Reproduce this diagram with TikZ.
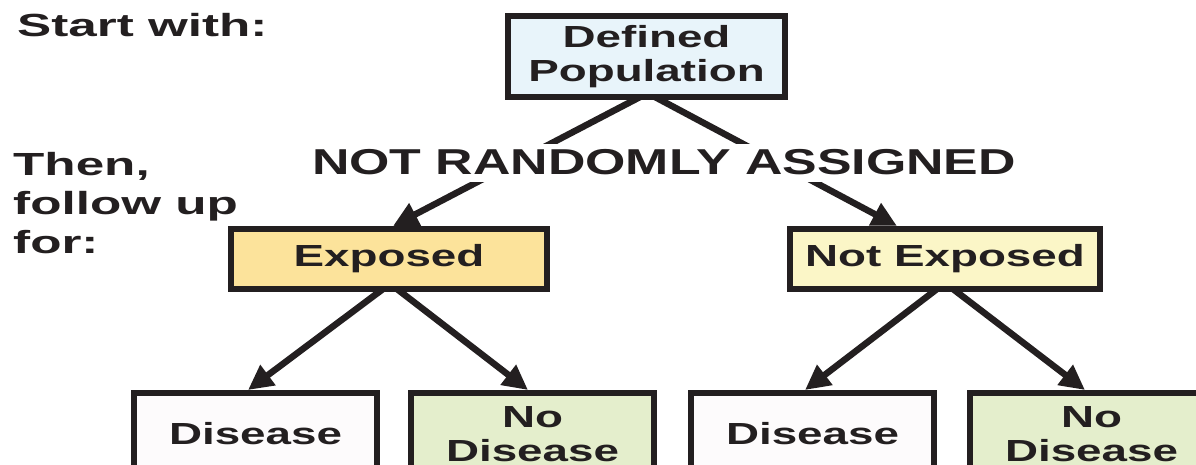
\documentclass[tikz,border=0pt]{standalone}
\usepackage{fontspec}
\setmainfont{Liberation Sans}
% widened bold sans faces for the labels
\newfontfamily\boxfont{Liberation Sans}[FakeStretch=1.5]
\newfontfamily\sidefont{Liberation Sans}[FakeStretch=1.6]
\newfontfamily\midfont{Liberation Sans}[FakeStretch=1.44]
\usetikzlibrary{arrows.meta}
\definecolor{ink}{HTML}{231F20}
\definecolor{popfill}{HTML}{E8F4FA}
\definecolor{expfill}{HTML}{FCE39B}
\definecolor{nexpfill}{HTML}{FBF6C7}
\definecolor{disfill}{HTML}{FDFBFC}
\definecolor{nodfill}{HTML}{E4EECC}
\begin{document}
\begin{tikzpicture}[x=1pt,y=-1pt,
  box/.style={draw=ink, line width=6pt, inner sep=0pt, outer sep=0pt, text=ink,
    font=\boxfont\bfseries\fontsize{30.5}{34}\selectfont, align=center},
  leaf/.style={box, minimum width=243pt, minimum height=82pt},
  link/.style={draw=ink, line width=6.5pt, -{Triangle[length=25pt,width=24pt]}},
  side/.style={text=ink, inner sep=0pt, align=left,
    font=\sidefont\bfseries\fontsize{32}{39}\selectfont}]
\useasboundingbox (0,0) rectangle (1196,464);
\clip (0,0) rectangle (1196,464);

% boxes
\node[box, fill=popfill, minimum width=277pt, minimum height=81pt] (pop) at (646.5,56.5) {Defined\\Population};
\node[box, fill=expfill, minimum width=316pt, minimum height=60pt] (exp) at (389,259) {Exposed};
\node[box, fill=nexpfill, minimum width=310pt, minimum height=60pt] (nexp) at (945,259) {Not Exposed};
\node[leaf, fill=disfill] (d1) at (255.5,434) {Disease};
\node[leaf, fill=nodfill] (n1) at (532.5,434) {No\\Disease};
\node[leaf, fill=disfill] (d2) at (812.5,434) {Disease};
\node[leaf, fill=nodfill] (n2) at (1091.5,434) {No\\Disease};

% arrows
\draw[link] ([xshift=-6.5pt]pop.south) -- ([xshift=4pt,yshift=3pt]exp.north);
\draw[link] ([xshift=8.5pt]pop.south) -- ([xshift=-48pt,yshift=3pt]nexp.north);
\draw[link] ([xshift=-6pt]exp.south) -- ([xshift=-7.5pt,yshift=3pt]d1.north);
\draw[link] ([xshift=8pt]exp.south) -- ([xshift=-4.5pt,yshift=3pt]n1.north);
\draw[link] ([xshift=-8pt]nexp.south) -- ([xshift=-7.5pt,yshift=3pt]d2.north);
\draw[link] ([xshift=8pt]nexp.south) -- ([xshift=-6.5pt,yshift=3pt]n2.north);

% label over the first pair of arrows
\node[fill=white, text=ink, font=\midfont\bfseries\fontsize{36}{40}\selectfont,
  inner xsep=4pt, inner ysep=4pt, text height=26pt, text depth=4pt, anchor=base]
  (assign) at (664,174) {NOT RANDOMLY ASSIGNED};

% side labels
\node[side, anchor=base west] (start) at (17,36) {Start with:};
\node[side, anchor=north west] (then) at (13,152) {Then,\\follow up\\for:};
\end{tikzpicture}
\end{document}
